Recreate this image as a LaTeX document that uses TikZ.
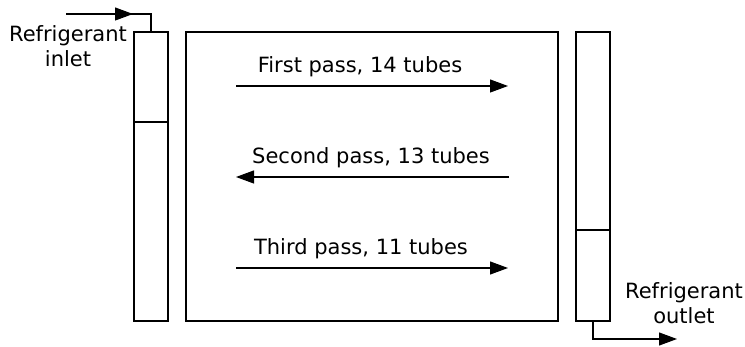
\documentclass[tikz,border=0pt]{standalone}
\usepackage{fontspec}
\setmainfont{DejaVu Sans}
\usetikzlibrary{arrows.meta}
\begin{document}
\begin{tikzpicture}[x=1pt,y=-1pt,
  line width=1.1pt,
  box/.style={draw, rectangle, inner sep=0pt},
  lbl/.style={font=\fontsize{21}{25}\selectfont, inner sep=0pt, align=center},
  flow/.style={-{Triangle[length=18pt,width=13pt]}}]
\useasboundingbox (0,0) rectangle (745,347);

% headers and tube bundle
\node[box, minimum width=34pt, minimum height=289pt] (lh) at (151,176.5) {};
\node[box, minimum width=372pt, minimum height=289pt] (core) at (372,176.5) {};
\node[box, minimum width=34pt, minimum height=289pt] (rh) at (593,176.5) {};

% header baffles
\coordinate (lbL) at (134,122);
\coordinate (lbR) at (168,122);
\draw (lbL) -- (lbR);
\coordinate (rbL) at (576,230);
\coordinate (rbR) at (610,230);
\draw (rbL) -- (rbR);

% refrigerant inlet
\coordinate (inS) at (66,14);
\coordinate (inTip) at (133,14);
\coordinate (inBend) at (151,14);
\draw (inS) -- (inBend) -- (lh.north);
\draw[flow] (inS) -- (inTip);
\node[lbl] (inLbl) at (68,46) {Refrigerant\\inlet};

% refrigerant outlet
\coordinate (outBend) at (593,339);
\coordinate (outTip) at (677,339);
\draw[flow] (rh.south) -- (outBend) -- (outTip);
\node[lbl] (outLbl) at (684,303) {Refrigerant\\outlet};

% passes
\coordinate (p1a) at (236,86);  \coordinate (p1b) at (508,86);
\coordinate (p2a) at (509,177); \coordinate (p2b) at (236,177);
\coordinate (p3a) at (236,268); \coordinate (p3b) at (508,268);
\draw[flow] (p1a) -- (p1b);
\draw[flow] (p2a) -- (p2b);
\draw[flow] (p3a) -- (p3b);
\node[lbl] (t1) at (360,67) {First pass, 14 tubes};
\node[lbl] (t2) at (371,158) {Second pass, 13 tubes};
\node[lbl] (t3) at (361,249) {Third pass, 11 tubes};
\end{tikzpicture}
\end{document}
